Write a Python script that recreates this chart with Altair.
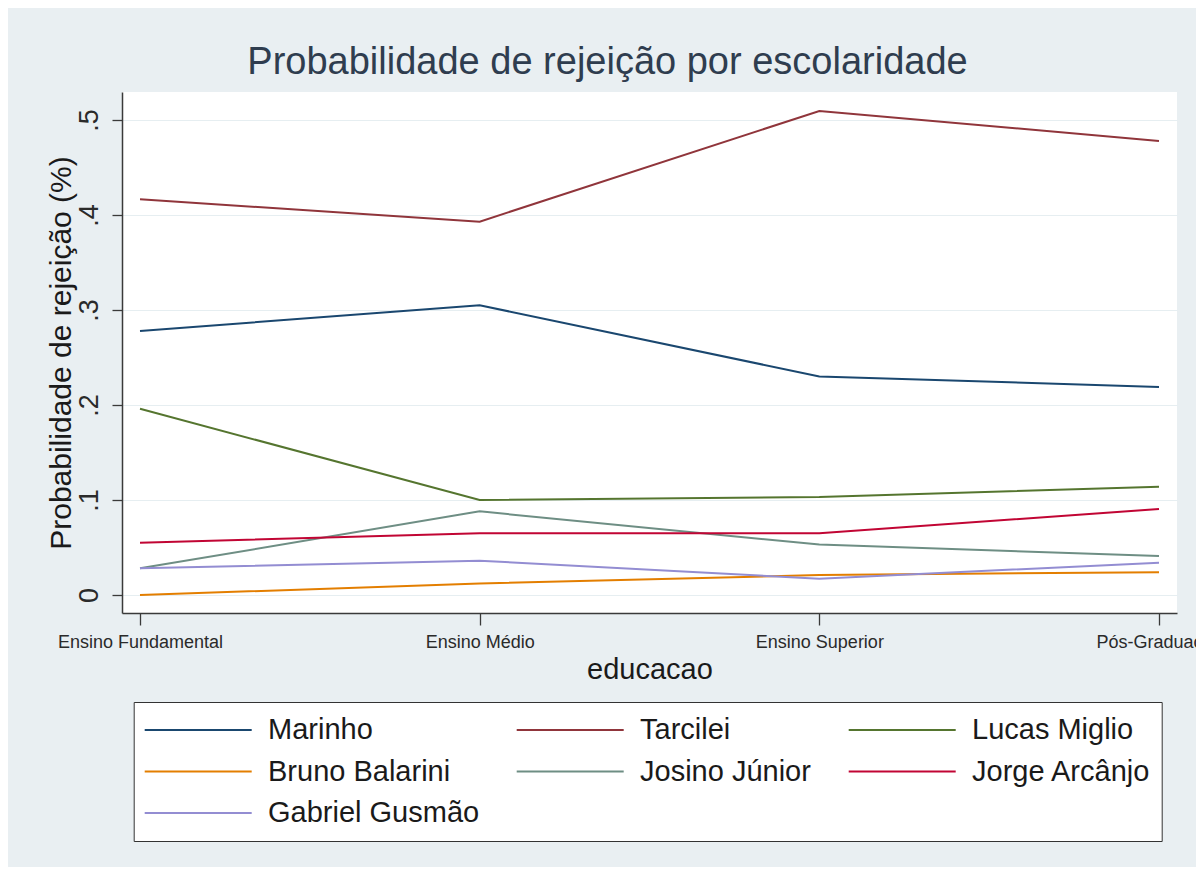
import altair as alt
import pandas as pd

educacao = ["Ensino Fundamental", "Ensino Médio", "Ensino Superior", "Pós-Graduação"]
candidatos = ["Marinho", "Tarcilei", "Lucas Miglio", "Bruno Balarini",
              "Josino Júnior", "Jorge Arcânjo", "Gabriel Gusmão"]

marinho = [0.278, 0.305, 0.230, 0.219]
tarcilei = [0.4165, 0.393, 0.5095, 0.478]
lucas_miglio = [0.196, 0.100, 0.103, 0.114]
bruno_balarini = [0.000, 0.012, 0.021, 0.024]
josino_junior = [0.028, 0.088, 0.053, 0.041]
jorge_arcanjo = [0.055, 0.065, 0.065, 0.0905]
gabriel_gusmao = [0.028, 0.036, 0.017, 0.034]

cores = ["#1a476f", "#90353b", "#55752f", "#e37e00", "#6e8e84", "#c10534", "#938dd2"]
y_ticks = [0, 0.1, 0.2, 0.3, 0.4, 0.5]

series = [marinho, tarcilei, lucas_miglio, bruno_balarini,
          josino_junior, jorge_arcanjo, gabriel_gusmao]
rows = []
for k, (nome, vals) in enumerate(zip(candidatos, series)):
    for e, v in zip(educacao, vals):
        rows.append({"candidato": nome, "educacao": e, "prob": v, "ordem": k})
df = pd.DataFrame(rows)

FONT = "Liberation Sans"

chart = alt.Chart(df).mark_line(strokeWidth=2).encode(
    x=alt.X(
        "educacao:N",
        sort=educacao,
        scale=alt.Scale(type="point", padding=0.053),
        axis=alt.Axis(
            title="educacao",
            titleFontSize=29,
            titleFont=FONT,
            titleFontWeight="normal",
            titleColor="#1a1a1a",
            titleX=527.5,
            titleY=65,
            titleAlign="center",
            titleBaseline="alphabetic",
            labelAngle=0,
            labelFontSize=18,
            labelFont=FONT,
            labelColor="#2a2a2a",
            labelBaseline="alphabetic",
            labelPadding=22,
            labelLimit=400,
            tickSize=12,
            tickColor="#3a3a3a",
            tickWidth=1.3,
            domainColor="#3a3a3a",
            domainWidth=1.5,
            grid=False,
        ),
    ),
    y=alt.Y(
        "prob:Q",
        scale=alt.Scale(domain=[-0.019, 0.5295], nice=False, zero=False),
        axis=alt.Axis(
            values=y_ticks,
            labelExpr="datum.value == 0 ? '0' : replace(format(datum.value, '.1f'), '0.', '.')",
            title="Probabilidade de rejeição (%)",
            titleFontSize=30,
            titleFont=FONT,
            titleFontWeight="normal",
            titleColor="#1a1a1a",
            titleAngle=270,
            titleX=-52,
            titleY=260.5,
            titleAlign="center",
            titleBaseline="alphabetic",
            labelAngle=270,
            labelAlign="center",
            labelBaseline="alphabetic",
            labelFontSize=27,
            labelFont=FONT,
            labelColor="#2a2a2a",
            labelPadding=15,
            tickSize=10,
            tickColor="#3a3a3a",
            tickWidth=1.3,
            domainColor="#3a3a3a",
            domainWidth=1.5,
            grid=True,
            gridColor="#e6eef1",
            gridWidth=1.2,
        ),
    ),
    color=alt.Color(
        "candidato:N",
        sort=candidatos,
        scale=alt.Scale(domain=candidatos, range=cores),
        title=None,
        legend=alt.Legend(
            orient="none",
            direction="horizontal",
            legendX=11.7,
            legendY=610,
            columns=3,
            symbolType="stroke",
            symbolSize=11449,
            symbolStrokeWidth=2,
            symbolOffset=0,
            clipHeight=36,
            rowPadding=5.5,
            columnPadding=36,
            labelOffset=15.3,
            labelFontSize=29,
            labelFont=FONT,
            labelColor="#1a1a1a",
            labelLimit=400,
            padding=10,
            fillColor="white",
            strokeColor="#333333",
        ),
    ),
    order=alt.Order("ordem:Q"),
).properties(
    width=1055,
    height=521,
    title=alt.TitleParams(
        "Probabilidade de rejeição por escolaridade",
        fontSize=38,
        font=FONT,
        fontWeight="normal",
        color="#2f3d4f",
        anchor="middle",
        frame="group",
        dx=-42,
        offset=10,
    ),
    autosize=alt.AutoSizeParams(type="none"),
    padding={"left": 114, "top": 84, "right": 19, "bottom": 254},
    background="#e9eff2",
).configure_view(
    stroke=None,
    fill="white",
)

chart.save("out.html", embed_options={"renderer": "svg", "actions": False})
